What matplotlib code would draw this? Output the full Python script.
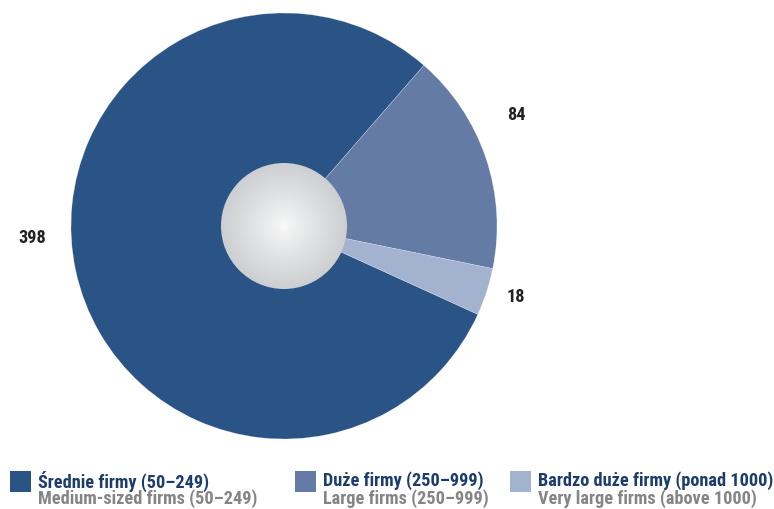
import matplotlib.pyplot as plt
import numpy as np
from matplotlib import font_manager
from matplotlib.patches import Circle, Rectangle

# firm counts by size class
labels_pl = ["Średnie firmy (50–249)", "Duże firmy (250–999)", "Bardzo duże firmy (ponad 1000)"]
labels_en = ["Medium-sized firms (50–249)", "Large firms (250–999)", "Very large firms (above 1000)"]
counts = [398, 84, 18]

COLORS = ["#2b5486", "#647ba6", "#a3b2cf"]
NAVY = "#1c3c6c"
GREY = "#858585"

installed = {f.name for f in font_manager.fontManager.ttflist}
narrow = next(n for n in ["Roboto Condensed", "PT Sans Narrow", "DejaVu Sans"] if n in installed)
FONT = [narrow, "DejaVu Sans"]

W, H = 774, 510
fig = plt.figure(figsize=(W / 100, H / 100), dpi=100)
ax = fig.add_axes([0, 0, 1, 1])

cx, cy, r = 284, H - 227, 213
ax.pie(counts, colors=COLORS, startangle=335.5, counterclock=False,
       center=(cx, cy), radius=r, frame=True,
       wedgeprops=dict(linewidth=0.3, edgecolor="#ffffff80"))
ax.set_xlim(0, W)
ax.set_ylim(0, H)
ax.set_aspect("equal")
ax.axis("off")

# grey radial-gradient disc in the middle
ri = 63
xs = np.linspace(-1, 1, 300)
xx, yy = np.meshgrid(xs, xs)
d = np.clip(np.sqrt(xx ** 2 + yy ** 2), 0, 1)
inner, outer = np.array([0.98, 0.98, 0.98]), np.array([0.80, 0.81, 0.82])
img = inner + (outer - inner) * (d[..., None] ** 0.85)
im = ax.imshow(img, extent=(cx - ri, cx + ri, cy - ri, cy + ri), origin="lower", zorder=3)
disc = Circle((cx, cy), ri, transform=ax.transData, facecolor="none", edgecolor="none")
ax.add_patch(disc)
im.set_clip_path(disc)

# size the narrow font so the longest english line spans ~219 px
probe = fig.text(0, 0, labels_en[0], fontsize=12, fontweight="bold", family=FONT)
fig.canvas.draw()
fs = 12 * 219 / probe.get_window_extent().width
probe.remove()
fs = min(fs, 15)

# value labels beside the slices
label_pos = [(32, H - 238), (516, H - 115), (516, H - 297)]
for (lx, ly), v in zip(label_pos, counts):
    ax.text(lx, ly, f"{v}", ha="center", va="center", fontsize=fs,
            fontweight="bold", color="#222222", family=FONT)

# legend row
leg_x = [10, 295, 510]
for x0, c, pl, en in zip(leg_x, COLORS, labels_pl, labels_en):
    ax.add_patch(Rectangle((x0, H - 493), 21, 21, facecolor=c, edgecolor="none"))
    ax.text(x0 + 28, H - 481, pl, ha="left", va="center", fontsize=fs,
            fontweight="bold", color=NAVY, family=FONT)
    ax.text(x0 + 28, H - 499, en, ha="left", va="center", fontsize=fs,
            fontweight="bold", color=GREY, family=FONT)

fig.savefig("out.png", dpi=100, facecolor="white")
